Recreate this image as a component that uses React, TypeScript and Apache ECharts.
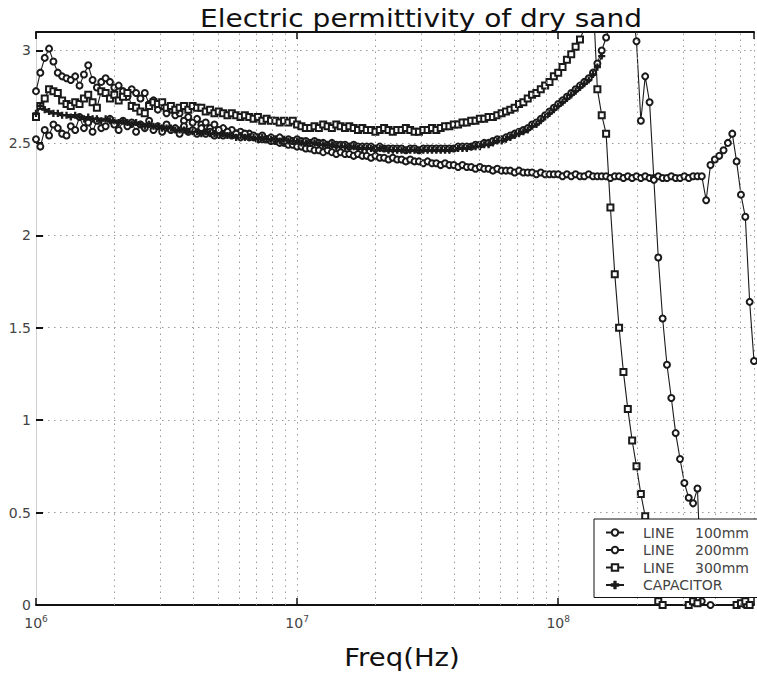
import React, { useEffect, useRef } from 'react';
import * as echarts from 'echarts';

// Sweep frequencies in MHz (log-spaced measurement grid)
const FREQ_MHZ = [
  1.000, 1.039, 1.080, 1.122, 1.166, 1.212, 1.259, 1.309, 1.359, 1.413,
  1.468, 1.526, 1.585, 1.647, 1.711, 1.778, 1.848, 1.920, 1.995, 2.073,
  2.154, 2.239, 2.326, 2.417, 2.512, 2.610, 2.712, 2.818, 2.929, 3.043,
  3.162, 3.286, 3.415, 3.548, 3.687, 3.831, 3.981, 4.137, 4.299, 4.467,
  4.642, 4.823, 5.012, 5.208, 5.412, 5.623, 5.843, 6.072, 6.310, 6.556,
  6.813, 7.079, 7.356, 7.644, 7.943, 8.254, 8.577, 8.913, 9.261, 9.624,
  10.00, 10.39, 10.80, 11.22, 11.66, 12.12, 12.59, 13.09, 13.59, 14.13,
  14.68, 15.26, 15.85, 16.47, 17.11, 17.78, 18.48, 19.20, 19.95, 20.73,
  21.54, 22.39, 23.26, 24.17, 25.12, 26.10, 27.12, 28.18, 29.29, 30.43,
  31.62, 32.86, 34.15, 35.48, 36.87, 38.31, 39.81, 41.37, 42.99, 44.67,
  46.42, 48.23, 50.12, 52.08, 54.12, 56.23, 58.43, 60.72, 63.10, 65.56,
  68.13, 70.79, 73.56, 76.44, 79.43, 82.54, 85.77, 89.13, 92.61, 96.24,
  100.0, 103.9, 108.0, 112.2, 116.6, 121.2, 125.9, 130.9, 135.9, 141.3,
  146.8, 152.6, 158.5, 164.7, 171.1, 177.8, 184.8, 192.0, 199.5, 207.3,
  215.4, 223.9, 232.6, 241.7, 251.2, 261.0, 271.2, 281.8, 292.9, 304.3,
  316.2, 328.6, 341.5, 354.8, 368.7, 383.1, 398.1, 413.7, 429.9, 446.7,
  464.2, 482.3, 501.2, 520.8, 541.2, 562.3,
];

const LINE_100MM = [
  2.78, 2.88, 2.96, 3.01, 2.94, 2.88, 2.86, 2.85, 2.84, 2.86,
  2.81, 2.87, 2.92, 2.84, 2.80, 2.83, 2.85, 2.83, 2.80, 2.81,
  2.78, 2.75, 2.79, 2.77, 2.74, 2.77, 2.71, 2.73, 2.68, 2.70,
  2.66, 2.68, 2.65, 2.66, 2.62, 2.64, 2.61, 2.63, 2.60, 2.61,
  2.58, 2.60, 2.57, 2.58, 2.56, 2.57, 2.55, 2.56, 2.54, 2.55,
  2.53, 2.53, 2.52, 2.52, 2.51, 2.51, 2.50, 2.50, 2.49, 2.49,
  2.48, 2.48, 2.47, 2.47, 2.46, 2.46, 2.45, 2.46, 2.45, 2.44,
  2.45, 2.44, 2.44, 2.43, 2.44, 2.43, 2.43, 2.42, 2.43, 2.42,
  2.42, 2.41, 2.42, 2.41, 2.41, 2.40, 2.41, 2.40, 2.40, 2.39,
  2.40, 2.39, 2.39, 2.38, 2.39, 2.38, 2.38, 2.37, 2.38, 2.37,
  2.37, 2.36, 2.37, 2.36, 2.36, 2.35, 2.36, 2.35, 2.35, 2.35,
  2.34, 2.35, 2.34, 2.34, 2.34, 2.33, 2.34, 2.33, 2.33, 2.33,
  2.33, 2.32, 2.33, 2.32, 2.33, 2.32, 2.32, 2.33, 2.32, 2.32,
  2.32, 2.32, 2.31, 2.32, 2.32, 2.31, 2.32, 2.31, 2.32, 2.31,
  2.32, 2.31, 2.31, 2.32, 2.31, 2.31, 2.32, 2.31, 2.31, 2.32,
  2.31, 2.32, 2.32, 2.32, 2.19, 2.38, 2.41, 2.43, 2.46, 2.50,
  2.55, 2.40, 2.22, 2.10, 1.64, 1.32,
];

const LINE_200MM = [
  2.52, 2.48, 2.57, 2.54, 2.60, 2.58, 2.55, 2.54, 2.59, 2.57,
  2.64, 2.58, 2.61, 2.56, 2.62, 2.58, 2.59, 2.63, 2.60, 2.57,
  2.62, 2.59, 2.61, 2.56, 2.60, 2.58, 2.62, 2.57, 2.59, 2.56,
  2.60, 2.57, 2.58, 2.55, 2.59, 2.56, 2.57, 2.55, 2.58, 2.55,
  2.56, 2.54, 2.57, 2.54, 2.56, 2.54, 2.55, 2.53, 2.55, 2.53,
  2.54, 2.52, 2.54, 2.52, 2.53, 2.52, 2.53, 2.51, 2.52, 2.51,
  2.52, 2.51, 2.51, 2.50, 2.51, 2.50, 2.50, 2.49, 2.50, 2.49,
  2.49, 2.49, 2.48, 2.49, 2.48, 2.48, 2.48, 2.48, 2.47, 2.48,
  2.47, 2.47, 2.47, 2.47, 2.47, 2.46, 2.47, 2.47, 2.46, 2.47,
  2.47, 2.47, 2.47, 2.47, 2.47, 2.47, 2.47, 2.48, 2.48, 2.48,
  2.48, 2.49, 2.49, 2.50, 2.50, 2.51, 2.52, 2.52, 2.53, 2.54,
  2.55, 2.56, 2.57, 2.58, 2.60, 2.61, 2.63, 2.65, 2.67, 2.69,
  2.71, 2.73, 2.75, 2.77, 2.79, 2.81, 2.83, 2.85, 2.88, 2.93,
  3.00, 3.07, 3.15, 3.30, 3.45, 3.55, 3.45, 3.25, 3.05, 2.62,
  2.86, 2.72, 2.30, 1.88, 1.55, 1.30, 1.12, 0.93, 0.79, 0.66,
  0.58, 0.55, 0.63, 0.02, -0.01, 0.00, -0.02, -0.01, -0.02, -0.01,
  -0.02, -0.02, -0.01, 0.00, -0.01, -0.02,
];

const LINE_300MM = [
  2.64, 2.70, 2.74, 2.79, 2.78, 2.77, 2.73, 2.71, 2.70, 2.72,
  2.71, 2.74, 2.76, 2.72, 2.69, 2.78, 2.77, 2.74, 2.76, 2.73,
  2.75, 2.77, 2.70, 2.69, 2.67, 2.66, 2.70, 2.72, 2.71, 2.72,
  2.69, 2.70, 2.68, 2.69, 2.70, 2.68, 2.70, 2.69, 2.69, 2.67,
  2.68, 2.66, 2.67, 2.66, 2.65, 2.66, 2.65, 2.64, 2.65, 2.64,
  2.63, 2.64, 2.62, 2.63, 2.62, 2.62, 2.61, 2.62, 2.61, 2.62,
  2.60, 2.59, 2.58, 2.58, 2.59, 2.58, 2.60, 2.59, 2.58, 2.60,
  2.59, 2.58, 2.59, 2.58, 2.57, 2.58, 2.57, 2.57, 2.56, 2.57,
  2.58, 2.57, 2.56, 2.57, 2.57, 2.58, 2.57, 2.56, 2.56, 2.57,
  2.57, 2.58, 2.57, 2.58, 2.59, 2.59, 2.60, 2.60, 2.61, 2.61,
  2.62, 2.62, 2.63, 2.63, 2.64, 2.64, 2.65, 2.66, 2.67, 2.68,
  2.69, 2.71, 2.72, 2.74, 2.76, 2.77, 2.79, 2.81, 2.83, 2.86,
  2.88, 2.91, 2.95, 2.98, 3.02, 3.06, 3.12, 3.25, 3.30, 2.79,
  2.65, 2.55, 2.15, 1.79, 1.50, 1.26, 1.06, 0.89, 0.75, 0.60,
  0.48, 0.32, 0.16, 0.02, 0.00, -0.02, -0.03, -0.02, -0.03, -0.02,
  0.00, 0.02, 0.01, -0.01, -0.02, -0.01, -0.02, -0.02, -0.01, -0.02,
  -0.01, 0.00, 0.01, 0.02, 0.00, -0.01,
];

const CAPACITOR = [
  2.66, 2.70, 2.68, 2.67, 2.66, 2.66, 2.65, 2.65, 2.64, 2.65,
  2.64, 2.63, 2.64, 2.63, 2.63, 2.62, 2.63, 2.62, 2.62, 2.61,
  2.62, 2.61, 2.60, 2.61, 2.60, 2.59, 2.60, 2.59, 2.59, 2.58,
  2.58, 2.58, 2.57, 2.57, 2.57, 2.56, 2.56, 2.56, 2.55, 2.56,
  2.55, 2.55, 2.54, 2.55, 2.54, 2.54, 2.53, 2.54, 2.53, 2.53,
  2.53, 2.52, 2.53, 2.52, 2.52, 2.52, 2.51, 2.52, 2.51, 2.51,
  2.51, 2.50, 2.50, 2.50, 2.50, 2.49, 2.49, 2.49, 2.49, 2.48,
  2.48, 2.48, 2.48, 2.48, 2.47, 2.47, 2.47, 2.47, 2.47, 2.47,
  2.47, 2.46, 2.46, 2.46, 2.46, 2.46, 2.46, 2.46, 2.46, 2.46,
  2.46, 2.46, 2.46, 2.46, 2.46, 2.46, 2.47, 2.47, 2.47, 2.47,
  2.48, 2.48, 2.48, 2.49, 2.49, 2.50, 2.51, 2.51, 2.52, 2.53,
  2.54, 2.55, 2.56, 2.57, 2.59, 2.60, 2.62, 2.64, 2.66, 2.68,
  2.70, 2.72, 2.74, 2.76, 2.78, 2.80, 2.82, 2.84, 2.87, 2.91,
  2.97,
];

const SERIES_NAMES = ['LINE 100mm', 'LINE 200mm', 'LINE 300mm', 'CAPACITOR'];
const MINOR_GRID_HZ = [
  2e6, 3e6, 4e6, 5e6, 6e6, 7e6, 8e6, 9e6,
  2e7, 3e7, 4e7, 5e7, 6e7, 7e7, 8e7, 9e7,
  2e8, 3e8, 4e8, 5e8,
];
const X_MIN_HZ = 1e6;
const X_MAX_HZ = 5.623e8;
const Y_MIN = 0;
const Y_MAX = 3.1;
const Y_STEP = 0.5;

const TITLE = 'Electric permittivity of dry sand';
const X_NAME = 'Freq(Hz)';

const INK = '#1a1a1a';
const GRID_STYLE = { color: '#9a9a9a', type: [1.5, 4.5] as number[], width: 1 };
const PLUS_SYMBOL = 'path://M4,0H6V4H10V6H6V10H4V6H0V4H4Z';

function pairs(values: number[]) {
  return values.map((v, i) => [FREQ_MHZ[i] * 1e6, v]);
}

export default function App() {
  const ref = useRef<HTMLDivElement>(null);

  useEffect(() => {
    if (!ref.current) return;
    const chart = echarts.init(ref.current, null, { renderer: 'svg' });

    const lineBase = (name: string, data: number[], symbol: string, size: number) => ({
      name,
      type: 'line',
      data: pairs(data),
      symbol,
      symbolSize: size,
      showSymbol: true,
      showAllSymbol: true,
      clip: true,
      z: 3,
      lineStyle: { color: INK, width: 1.1 },
      itemStyle: { color: INK, borderColor: INK, borderWidth: 1.1 },
      emphasis: { disabled: true },
    });

    const xLabelFormatter = (value: number) => {
      const e = Math.log10(value);
      const r = Math.round(e);
      if (Math.abs(e - r) > 1e-6) return '';
      return `{b|10}{sup|${r}}`;
    };

    const option: any = {
      animation: false,
      backgroundColor: '#fff',
      textStyle: { fontFamily: 'DejaVu Sans' },
      grid: { left: 36, top: 32, right: 0, bottom: 70, containLabel: false },
      xAxis: [
        {
          type: 'log',
          logBase: 10,
          min: X_MIN_HZ,
          max: X_MAX_HZ,
          axisLine: { show: true, onZero: false, lineStyle: { color: '#111', width: 2 } },
          axisTick: { show: true, inside: true, length: 7, lineStyle: { color: '#111', width: 1.5 } },
          axisLabel: {
            show: true,
            margin: 9,
            formatter: xLabelFormatter,
            rich: {
              b: { fontSize: 14, color: '#444', lineHeight: 17, fontFamily: 'DejaVu Sans' },
              sup: { fontSize: 9, color: '#444', lineHeight: 17, verticalAlign: 'top', padding: [0, 0, 6, 0], fontFamily: 'DejaVu Sans' },
            },
          },
          splitLine: { show: true, lineStyle: GRID_STYLE },
        },
        {
          type: 'log',
          logBase: 10,
          position: 'top',
          min: X_MIN_HZ,
          max: X_MAX_HZ,
          axisLine: { show: true, onZero: false, lineStyle: { color: '#111', width: 2 } },
          axisTick: { show: true, inside: true, length: 7, lineStyle: { color: '#111', width: 1.5 } },
          axisLabel: { show: false },
          splitLine: { show: false },
        },
      ],
      yAxis: {
        type: 'value',
        min: Y_MIN,
        max: Y_MAX,
        interval: Y_STEP,
        axisLine: { show: true, lineStyle: { color: '#cfcfcf', width: 1 } },
        axisTick: { show: true, inside: true, length: 7, lineStyle: { color: '#111', width: 2 } },
        axisLabel: {
          color: '#444',
          fontSize: 14,
          margin: 5,
          fontFamily: 'DejaVu Sans',
          formatter: (v: number) =>
            Math.abs(v / Y_STEP - Math.round(v / Y_STEP)) < 1e-9 ? String(v) : '',
        },
        splitLine: { show: true, lineStyle: GRID_STYLE },
      },
      legend: {
        data: SERIES_NAMES,
        orient: 'vertical',
        left: 594,
        top: 519,
        itemWidth: 18,
        itemHeight: 8,
        itemGap: 0.5,
        padding: [5, 40, 4, 11],
        backgroundColor: '#fff',
        borderColor: '#111',
        borderWidth: 1,
        borderRadius: 0,
        selectedMode: false,
        z: 10,
        formatter: (name: string) => {
          if (name === 'CAPACITOR') return '{a|CAPACITOR}';
          const parts = name.split(' ');
          return `{a|${parts[0]}}{b|${parts[1]}}`;
        },
        textStyle: {
          color: '#444',
          fontSize: 14,
          lineHeight: 17,
          fontFamily: 'DejaVu Sans',
          rich: {
            a: { color: '#444', fontSize: 14, lineHeight: 17, width: 52, padding: [0, 0, 0, 14], fontFamily: 'DejaVu Sans' },
            b: { color: '#444', fontSize: 14, lineHeight: 17, fontFamily: 'DejaVu Sans' },
          },
        },
      },
      graphic: [
        {
          type: 'text',
          x: 421,
          y: 18,
          scaleX: 1.12,
          z: 20,
          style: {
            text: TITLE,
            fontSize: 25,
            fontFamily: 'DejaVu Sans',
            fill: '#111',
            align: 'center',
            verticalAlign: 'middle',
            textAlign: 'center',
            textVerticalAlign: 'middle',
          },
        },
        {
          type: 'text',
          x: 402,
          y: 657,
          scaleX: 1.1,
          z: 20,
          style: {
            text: X_NAME,
            fontSize: 25,
            fontFamily: 'DejaVu Sans',
            fill: '#111',
            align: 'center',
            verticalAlign: 'middle',
            textAlign: 'center',
            textVerticalAlign: 'middle',
          },
        },
      ],
      series: [
        {
          name: 'minor-grid',
          type: 'line',
          data: [],
          silent: true,
          z: 1,
          markLine: {
            silent: true,
            symbol: ['none', 'none'],
            label: { show: false },
            emphasis: { disabled: true },
            lineStyle: GRID_STYLE,
            data: MINOR_GRID_HZ.map((v) => ({ xAxis: v })),
          },
        },
        lineBase(SERIES_NAMES[0], LINE_100MM, 'emptyCircle', 6),
        lineBase(SERIES_NAMES[1], LINE_200MM, 'emptyCircle', 6),
        lineBase(SERIES_NAMES[2], LINE_300MM, 'emptyRect', 6),
        lineBase(SERIES_NAMES[3], CAPACITOR, PLUS_SYMBOL, 6),
      ],
    };

    chart.setOption(option);
    return () => chart.dispose();
  }, []);

  return (
    <div
      ref={ref}
      style={{ position: 'fixed', left: 0, top: 0, width: 757, height: 675, background: '#fff' }}
    />
  );
}
